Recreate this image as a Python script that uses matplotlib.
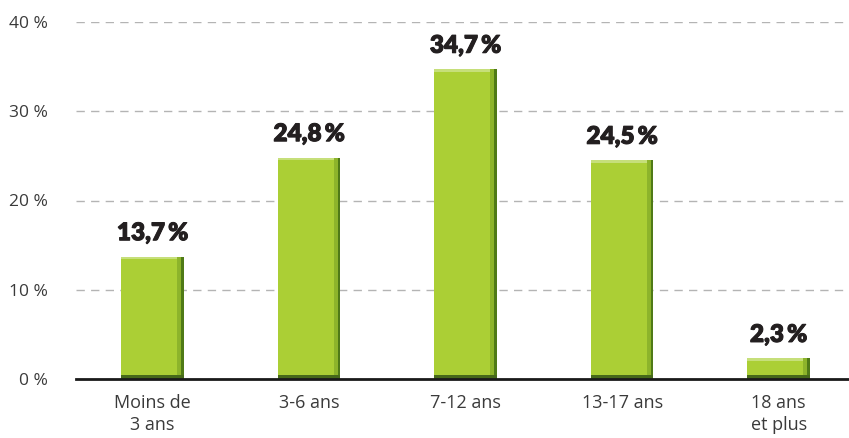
import matplotlib
matplotlib.use("Agg")
import matplotlib.pyplot as plt
import matplotlib.patheffects as pe

categories = ["Moins de\n3 ans", "3-6 ans", "7-12 ans", "13-17 ans", "18 ans\net plus"]
values = [13.7, 24.8, 34.7, 24.5, 2.3]
value_labels = ["13,7\u2009%", "24,8\u2009%", "34,7\u2009%", "24,5\u2009%", "2,3\u2009%"]
yticks = [0, 10, 20, 30, 40]
ytick_labels = ["0 %", "10 %", "20 %", "30 %", "40 %"]

fig = plt.figure(figsize=(8.49, 4.38), dpi=100)
ax = fig.add_axes([76/849, 59/438, 1 - 76/849, (379-22)/438])

x = list(range(len(values)))
w = 0.4
ax.bar(x, values, width=w, color="#abcf35", zorder=3)
# shading: light top, dark right edge, dark bottom
ax.bar(x, [0.3]*len(values), bottom=[v - 0.3 for v in values], width=w, color="#c6df7a", zorder=4)
ax.bar([xi + w/2 - 0.022 for xi in x], values, width=0.044, color="#8db42b", zorder=4)
ax.bar([xi + w/2 - 0.009 for xi in x], values, width=0.018, color="#4f7a17", zorder=4)
ax.bar(x, [0.5]*len(values), width=w, color="#46691a", zorder=5)

for xi, v, lab in zip(x, values, value_labels):
    ax.annotate(lab, (xi, v), xytext=(0, 9), textcoords="offset points",
                ha="center", va="bottom", fontsize=17.5, fontweight="heavy",
                family="Lato", color="#231f20",
                path_effects=[pe.withStroke(linewidth=0.7, foreground="#231f20")])

ax.set_ylim(0, 40)
ax.set_xlim(-0.49, 4.45)
ax.set_yticks(yticks)
ax.set_yticklabels(ytick_labels, fontsize=12.5, color="#3a3a3a", family="Open Sans")
ax.set_xticks(x)
ax.set_xticklabels(categories, fontsize=13, color="#3a3a3a", family="Open Sans", linespacing=1.3)
ax.tick_params(axis="both", length=0)
ax.tick_params(axis="y", pad=20)
ax.tick_params(axis="x", pad=11)

for s in ["top", "right", "left"]:
    ax.spines[s].set_visible(False)
ax.spines["bottom"].set_linewidth(2)
ax.spines["bottom"].set_color("#1a1a1a")
ax.spines["bottom"].set_zorder(6)

ax.yaxis.grid(True, linestyle=(0, (6, 4.5)), color="#b4b4b4", linewidth=1)
ax.set_axisbelow(True)

fig.savefig("out.png", dpi=100)
